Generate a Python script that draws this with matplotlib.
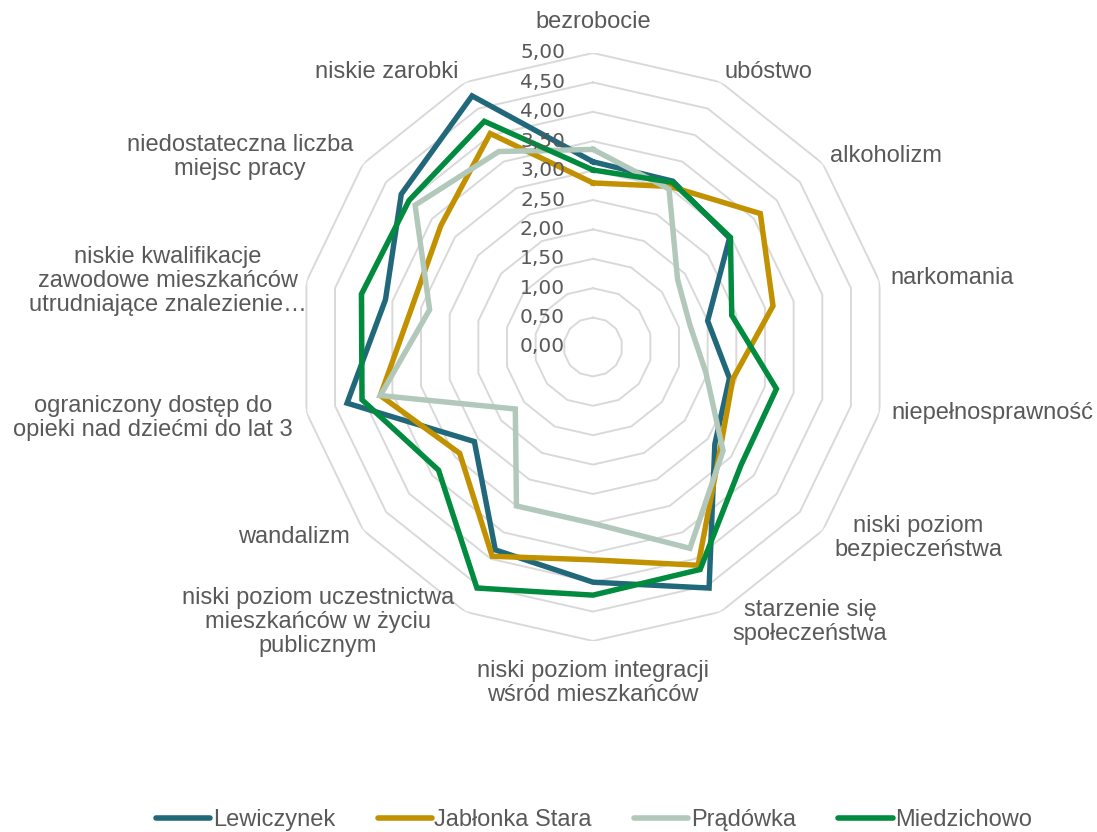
import matplotlib
matplotlib.use("Agg")
import matplotlib.pyplot as plt
import matplotlib.transforms as mtransforms
from matplotlib.lines import Line2D
import numpy as np

plt.rcParams['font.family'] = ['Liberation Sans', 'DejaVu Sans']

# dane z wykresu
kategorie = [
    "bezrobocie", "ubóstwo", "alkoholizm", "narkomania", "niepełnosprawność",
    "niski poziom\nbezpieczeństwa", "starzenie się\nspołeczeństwa",
    "niski poziom integracji\nwśród mieszkańców",
    "niski poziom uczestnictwa\nmieszkańców w życiu\npublicznym",
    "wandalizm", "ograniczony dostęp do\nopieki nad dziećmi do lat 3",
    "niskie kwalifikacje\nzawodowe mieszkańców\nutrudniające znalezienie…",
    "niedostateczna liczba\nmiejsc pracy", "niskie zarobki",
]
serie = ["Lewiczynek", "Jabłonka Stara", "Prądówka", "Miedzichowo"]
lewiczynek = [3.15, 3.13, 2.97, 2.00, 2.38, 2.65, 4.55, 4.00, 3.83, 2.58, 4.29, 3.62, 4.17, 4.74]
jablonka = [2.79, 3.03, 3.64, 3.14, 2.44, 2.77, 4.12, 3.62, 3.95, 2.90, 3.71, 3.15, 3.31, 4.03]
pradowka = [3.36, 2.98, 1.84, 1.69, 1.97, 2.83, 3.80, 3.00, 3.00, 1.69, 3.71, 2.85, 3.87, 3.69]
miedzichowo = [3.01, 3.11, 2.99, 2.42, 3.20, 3.22, 4.20, 4.22, 4.55, 3.36, 4.03, 4.04, 4.00, 4.26]
poziomy = [0.0, 0.5, 1.0, 1.5, 2.0, 2.5, 3.0, 3.5, 4.0, 4.5, 5.0]
kolory = ["#21697A", "#C19100", "#B2C8BB", "#008B3F"]

# pozycje podpisów kategorii (piksele obrazka)
pozycje_podpisow = [
    (593, 22), (768, 72), (886, 156), (952, 278), (992, 413), (918, 538),
    (810, 622), (593, 683), (318, 622), (294, 537), (153, 418), (168, 281),
    (240, 157), (387, 72),
]

W, H = 1097, 832
fig = plt.figure(figsize=(W / 100, H / 100), dpi=100)
cx, cy, R = 593, 347, 294
ax = fig.add_axes([(cx - R) / W, (H - cy - R) / H, 2 * R / W, 2 * R / H], projection='polar')
ax.set_theta_zero_location('N')
ax.set_theta_direction(-1)
ax.set_ylim(0, 5)
ax.grid(False)
ax.set_xticks([])
ax.set_yticks([])
ax.spines['polar'].set_visible(False)
ax.patch.set_alpha(0)

n = len(kategorie)
kat = np.linspace(0, 2 * np.pi, n, endpoint=False)
kat_z = np.append(kat, kat[0])

# siatka wielokątna
for p in poziomy[1:]:
    ax.plot(kat_z, [p] * (n + 1), color="#D9D9D9", lw=1.4, zorder=1)

# serie
for nazwa, wart, kol in zip(serie, [lewiczynek, jablonka, pradowka, miedzichowo], kolory):
    ax.plot(kat_z, wart + [wart[0]], color=kol, lw=3.9, solid_joinstyle='miter',
            zorder=3, clip_on=False, label=nazwa)

# etykiety osi wartości
off = mtransforms.offset_copy(ax.transData, fig=fig, x=-28, y=0, units='dots')
for p in poziomy:
    ax.text(0, p, f"{p:.2f}".replace('.', ','), transform=off, ha='right', va='center',
            fontsize=14.5, color="#595959", family=['DejaVu Sans'], zorder=4)

# podpisy kategorii
for tekst, (px, py) in zip(kategorie, pozycje_podpisow):
    fig.text(px / W, 1 - py / H, tekst, ha='center', va='center', fontsize=17,
             color="#595959", linespacing=1.1, multialignment='center')

uchwyty = [Line2D([0], [0], color=k, lw=4, solid_capstyle='round') for k in kolory]
fig.legend(uchwyty, serie, loc='center', bbox_to_anchor=(594 / W, 1 - 820 / H), ncol=4,
           frameon=False, fontsize=17, handlelength=2.3, handletextpad=0.1,
           columnspacing=1.8, labelcolor="#595959")

fig.savefig("out.png", dpi=100)
